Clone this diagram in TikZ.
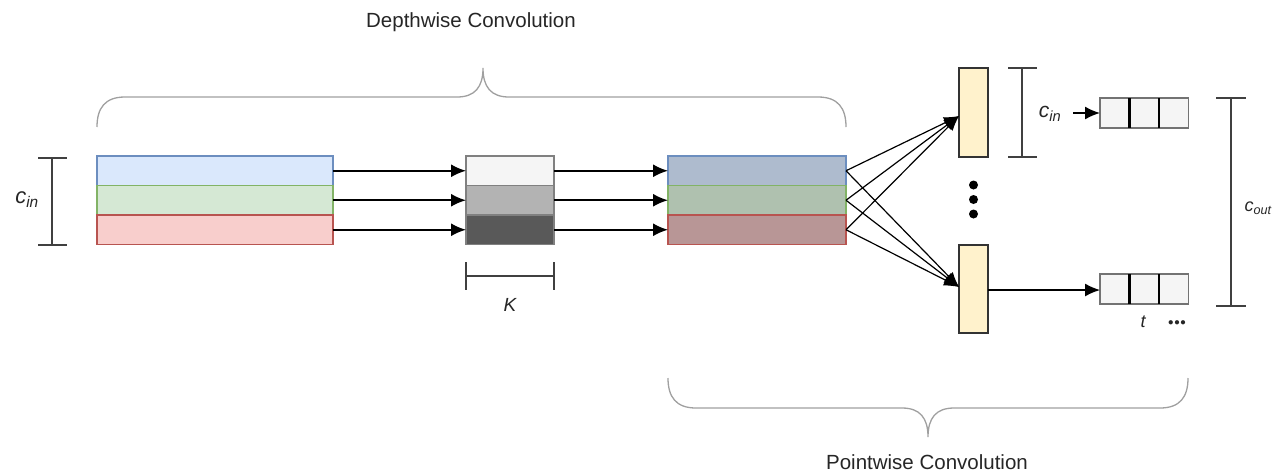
\documentclass[tikz,border=0pt]{standalone}
\usepackage{fontspec}
\setmainfont{Liberation Sans}
\usetikzlibrary{arrows.meta}
\definecolor{bfill}{HTML}{DAE8FC}\definecolor{bdraw}{HTML}{6C8EBF}
\definecolor{gfill}{HTML}{D5E8D4}\definecolor{gdraw}{HTML}{82B366}
\definecolor{rfill}{HTML}{F8CECC}\definecolor{rdraw}{HTML}{B85450}
\definecolor{bout}{HTML}{AEBBCE}\definecolor{gout}{HTML}{AFC1AF}\definecolor{rout}{HTML}{B89696}
\definecolor{k1}{HTML}{F5F5F5}\definecolor{k2}{HTML}{B3B3B3}\definecolor{k3}{HTML}{595959}
\definecolor{yel}{HTML}{FFF2CC}\definecolor{cellf}{HTML}{F5F5F5}
\definecolor{bracecol}{HTML}{A0A0A0}
\tikzset{
  box/.style={draw, line width=1.4pt, inner sep=0pt, outer sep=0pt, anchor=north west},
  conn/.style={line width=1.8pt, -{Latex[length=15pt,width=13pt]}},
  fan/.style={line width=1.2pt, -{Latex[length=15pt,width=12pt]}},
  dim/.style={line width=1.8pt, draw=black!75},
  brace/.style={line width=1.3pt, draw=bracecol},
  lbl/.style={font=\fontsize{20.5}{24}\selectfont, inner sep=0pt, text=black!85},
  mlbl/.style={font=\fontsize{19}{22}\selectfont\itshape, inner sep=0pt, text=black!85},
}
\begin{document}
\begin{tikzpicture}[x=1pt,y=-1pt]
\useasboundingbox (0,0) rectangle (1287,475);
% input
\node[box, draw=bdraw, fill=bfill, minimum width=236pt, minimum height=29.5pt] (in1) at (97,156) {};
\node[box, draw=gdraw, fill=gfill, minimum width=236pt, minimum height=29.5pt] (in2) at (97,185.5) {};
\node[box, draw=rdraw, fill=rfill, minimum width=236pt, minimum height=29.5pt] (in3) at (97,215) {};
% kernel
\node[box, draw=black!50, fill=k1, minimum width=88pt, minimum height=29.5pt] (k1) at (466,156) {};
\node[box, draw=black!50, fill=k2, minimum width=88pt, minimum height=29.5pt] (k2) at (466,185.5) {};
\node[box, draw=black!50, fill=k3, minimum width=88pt, minimum height=29.5pt] (k3) at (466,215) {};
% output of depthwise
\node[box, draw=bdraw, fill=bout, minimum width=178pt, minimum height=29.5pt] (o1) at (668,156) {};
\node[box, draw=gdraw, fill=gout, minimum width=178pt, minimum height=29.5pt] (o2) at (668,185.5) {};
\node[box, draw=rdraw, fill=rout, minimum width=178pt, minimum height=29.5pt] (o3) at (668,215) {};
\foreach \i in {1,2,3}{
  \draw[conn] (in\i.east) -- (k\i.west);
  \draw[conn] (k\i.east) -- (o\i.west);
}
% pointwise filters
\node[box, draw=black!80, fill=yel, minimum width=29pt, minimum height=89pt] (y1) at (959,68) {};
\node[box, draw=black!80, fill=yel, minimum width=29pt, minimum height=88pt] (y2) at (959,245) {};
\coordinate (t1) at (959,116);
\coordinate (t2) at (959,287);
\foreach \i in {1,2,3}{
  \draw[fan] (o\i.east) -- (t1);
  \draw[fan] (o\i.east) -- (t2);
}
\foreach \yy/\nm in {185/d1,199.5/d2,214/d3}{
  \node[circle, fill=black, inner sep=0pt, minimum size=9pt] (\nm) at (973.5,\yy) {};
}
% output rows
\foreach \r/\yy in {a/98,b/274}{
  \node[box, draw=black!55, fill=cellf, minimum width=88.5pt, minimum height=30pt] (row\r) at (1100,\yy) {};
  \coordinate (s1\r) at (1129.5,\yy);
  \coordinate (s2\r) at (1159,\yy);
  \draw[line width=2.6pt] (s1\r) -- ++(0,30);
  \draw[line width=2.6pt] (s2\r) -- ++(0,30);
}
\coordinate (ys) at (988,290);
\draw[conn, line width=1.3pt] (ys) -- (rowb.west |- ys);
% c_in top right
\node[mlbl, font=\fontsize{21}{22}\selectfont\itshape] (cin2) at (1050,114) {c\textsubscript{in}};
\coordinate (ca) at (1073,113);
\draw[conn, line width=1.5pt] (ca) -- (rowa.west |- ca);
% dimension bars
\draw[dim] (52,158) -- (52,245) (38,158) -- (67,158) (38,245) -- (67,245);
\node[mlbl, font=\fontsize{22}{24}\selectfont\itshape] (cin1) at (27,200) {c\textsubscript{in}};
\draw[dim] (466,276) -- (554,276) (466,262) -- (466,290) (554,262) -- (554,290);
\node[mlbl] (klbl) at (510,305) {K};
\draw[dim] (1022,68) -- (1022,157) (1008,68) -- (1037,68) (1008,157) -- (1037,157);
\draw[dim] (1231,98) -- (1231,306) (1216,98) -- (1246,98) (1216,306) -- (1246,306);
\node[mlbl, font=\fontsize{18}{20}\selectfont\itshape] (cout) at (1258,208) {c\textsubscript{out}};
\node[mlbl, font=\fontsize{18}{20}\selectfont\itshape] (tl) at (1143,322) {t};
\node[lbl, font=\fontsize{11}{12}\selectfont] (dots) at (1177,323) {$\bullet\!\bullet\!\bullet$};
% braces
\draw[brace] (97,127) .. controls (97,108) and (105,97) .. (125,97) -- (457,97)
  .. controls (475,97) and (483,87) .. (483,68)
  .. controls (483,87) and (491,97) .. (509,97) -- (818,97)
  .. controls (838,97) and (846,108) .. (846,127);
\node[lbl] (dw) at (471,22) {Depthwise Convolution};
\draw[brace] (668,378) .. controls (668,397) and (676,408) .. (696,408) -- (902,408)
  .. controls (920,408) and (928,418) .. (928,437)
  .. controls (928,418) and (936,408) .. (954,408) -- (1160,408)
  .. controls (1180,408) and (1188,397) .. (1188,378);
\node[lbl] (pw) at (927,462) {Pointwise Convolution};
\end{tikzpicture}
\end{document}
